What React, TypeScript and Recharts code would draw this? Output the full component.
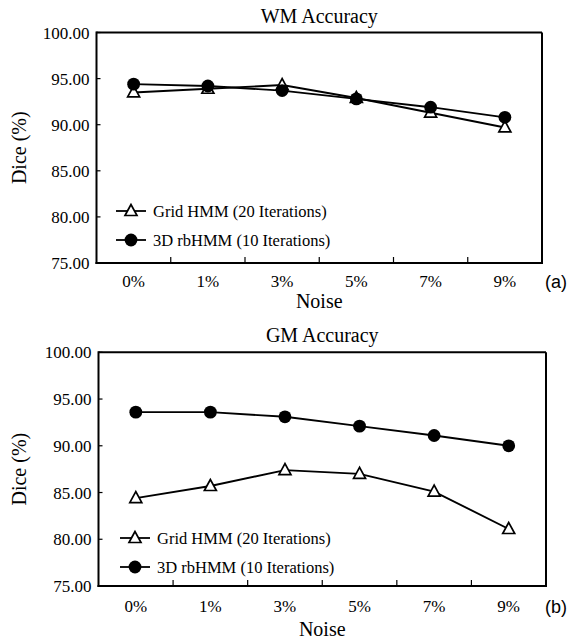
import React from 'react';
import { LineChart, Line, XAxis, YAxis, Legend, Label, CartesianGrid } from 'recharts';

const noise = ['0%', '1%', '3%', '5%', '7%', '9%'];
const wmGrid = [93.5, 93.9, 94.3, 92.9, 91.3, 89.7];
const wmRb = [94.4, 94.2, 93.7, 92.8, 91.9, 90.8];
const gmGrid = [84.4, 85.7, 87.4, 87.0, 85.1, 81.1];
const gmRb = [93.6, 93.6, 93.1, 92.1, 91.1, 90.0];
const diceTicks = [75, 80, 85, 90, 95, 100];

const series = [
  { key: 'grid', name: 'Grid HMM (20 Iterations)' },
  { key: 'rb', name: '3D rbHMM (10 Iterations)' }];

const serif = { fontFamily: 'Liberation Serif, Times New Roman, serif' };
const sans = { fontFamily: 'Liberation Sans, Arial, sans-serif' };
const axisStyle = { stroke: '#000', strokeWidth: 2, strokeLinecap: 'square' as const };

function triangle(cx: number, cy: number, key?: any) {
  return (
    <polygon
      key={key}
      points={`${cx},${cy - 6.5} ${cx - 6},${cy + 4.5} ${cx + 6},${cy + 4.5}`}
      fill="#fff"
      stroke="#000"
      strokeWidth={1.7} />);

}

function circle(cx: number, cy: number, key?: any) {
  return <circle key={key} cx={cx} cy={cy} r={6.4} fill="#000" />;
}

const markers: Record<string, typeof circle> = { grid: triangle, rb: circle };

type Geo = {
  height: number;
  left: number;
  right: number;
  plotTop: number;
  plotBottom: number;
  tickDy: number;
  noiseY: number;
  diceX: number;
  titleY: number;
  tagX: number;
  tagY: number;
  legendLeft: number;
  legendTop: number;
};

function AccuracyChart({ title, tag, gridVals, rbVals, g }: {title: string;tag: string;gridVals: number[];rbVals: number[];g: Geo;}) {
  const data = noise.map((n, i) => ({ noise: n, grid: gridVals[i], rb: rbVals[i] }));
  const plotW = g.right - g.left;
  const midX = (g.left + g.right) / 2;
  const midY = (g.plotTop + g.plotBottom) / 2;

  const XTick = (props: any) => {
    const { x, y, payload, index } = props;
    const half = payload.offset || plotW / noise.length / 2;
    return (
      <g>
        {index > 0 &&
        <line x1={x - half} x2={x - half} y1={y} y2={y - 6} stroke="#000" strokeWidth={1.2} />}
        <text x={x} y={y + g.tickDy} textAnchor="middle" style={serif} fontSize={17} fill="#000">
          {payload.value}
        </text>
      </g>);

  };

  const YTick = (props: any) => {
    const { x, y, payload } = props;
    return (
      <g>
        <line x1={x} x2={x + 4} y1={y} y2={y} stroke="#000" strokeWidth={1.2} />
        <text x={x - 7} y={y + 6} textAnchor="end" style={serif} fontSize={17} fill="#000">
          {payload.value.toFixed(2)}
        </text>
      </g>);

  };

  const renderLegend = () =>
  <svg width={240} height={60} style={{ display: 'block' }}>
      {series.map((s, i) => {
      const cy = 14 + i * 29;
      return (
        <g key={s.key}>
            <line x1={0} x2={30} y1={cy} y2={cy} stroke="#000" strokeWidth={1.8} />
            {markers[s.key](15, cy)}
            <text x={37} y={cy + 5.5} style={serif} fontSize={16.5} fill="#000">
              {s.name}
            </text>
          </g>);

    })}
    </svg>;


  return (
    <LineChart
      width={568}
      height={g.height}
      data={data}
      margin={{ top: g.plotTop, right: 568 - g.right, left: 0, bottom: 0 }}>

      <CartesianGrid
        stroke="#000"
        strokeWidth={2}
        horizontalCoordinatesGenerator={({ offset }: any) => [offset.top]}
        verticalCoordinatesGenerator={({ offset }: any) => [offset.left + offset.width]} />

      <XAxis
        dataKey="noise"
        scale="band"
        height={g.height - g.plotBottom}
        axisLine={axisStyle}
        tickLine={false}
        tickSize={0}
        tickMargin={0}
        interval={0}
        tick={XTick}>

        <Label
          content={() =>
          <text x={midX} y={g.noiseY} textAnchor="middle" style={serif} fontSize={20} fill="#000">
              Noise
            </text>
          } />

        <Label
          content={() =>
          <text x={g.tagX} y={g.tagY} style={sans} fontSize={18} fill="#000">
              {tag}
            </text>
          } />

        <Label
          content={() =>
          <text x={midX} y={g.titleY} textAnchor="middle" style={serif} fontSize={20} fill="#000">
              {title}
            </text>
          } />

      </XAxis>
      <YAxis
        type="number"
        domain={[75, 100]}
        ticks={diceTicks}
        interval={0}
        width={g.left}
        axisLine={axisStyle}
        tickLine={false}
        tickSize={0}
        tickMargin={0}
        tick={YTick}>

        <Label
          content={() =>
          <text
            x={g.diceX}
            y={midY}
            textAnchor="middle"
            transform={`rotate(-90 ${g.diceX} ${midY})`}
            style={serif}
            fontSize={20}
            fill="#000">

              Dice (%)
            </text>
          } />

      </YAxis>
      <Legend
        layout="vertical"
        align="center"
        verticalAlign="middle"
        content={renderLegend}
        wrapperStyle={{ left: g.legendLeft, top: g.legendTop, width: 240, height: 60 }} />

      {series.map((s) =>
      <Line
        key={s.key}
        dataKey={s.key}
        name={s.name}
        stroke="#000"
        strokeWidth={1.9}
        isAnimationActive={false}
        activeDot={false}
        dot={(p: any) => markers[s.key](p.cx, p.cy, p.index)} />

      )}
    </LineChart>);

}

const geoA: Geo = {
  height: 320,
  left: 96.5,
  right: 542,
  plotTop: 32.5,
  plotBottom: 263,
  tickDy: 24,
  noiseY: 308,
  diceX: 25.5,
  titleY: 23,
  tagX: 545,
  tagY: 287.5,
  legendLeft: 116,
  legendTop: 197
};

const geoB: Geo = {
  height: 321,
  left: 98.5,
  right: 546,
  plotTop: 32.3,
  plotBottom: 266,
  tickDy: 26,
  noiseY: 315.5,
  diceX: 26.5,
  titleY: 22,
  tagX: 545,
  tagY: 292.5,
  legendLeft: 120,
  legendTop: 204
};

export default function App() {
  return (
    <div style={{ position: 'absolute', left: 0, top: 0, width: 568, height: 641, background: '#fff' }}>
      <div style={{ position: 'absolute', left: 0, top: 0 }}>
        <AccuracyChart title="WM Accuracy" tag="(a)" gridVals={wmGrid} rbVals={wmRb} g={geoA} />
      </div>
      <div style={{ position: 'absolute', left: 0, top: 320 }}>
        <AccuracyChart title="GM Accuracy" tag="(b)" gridVals={gmGrid} rbVals={gmRb} g={geoB} />
      </div>
    </div>);

}
